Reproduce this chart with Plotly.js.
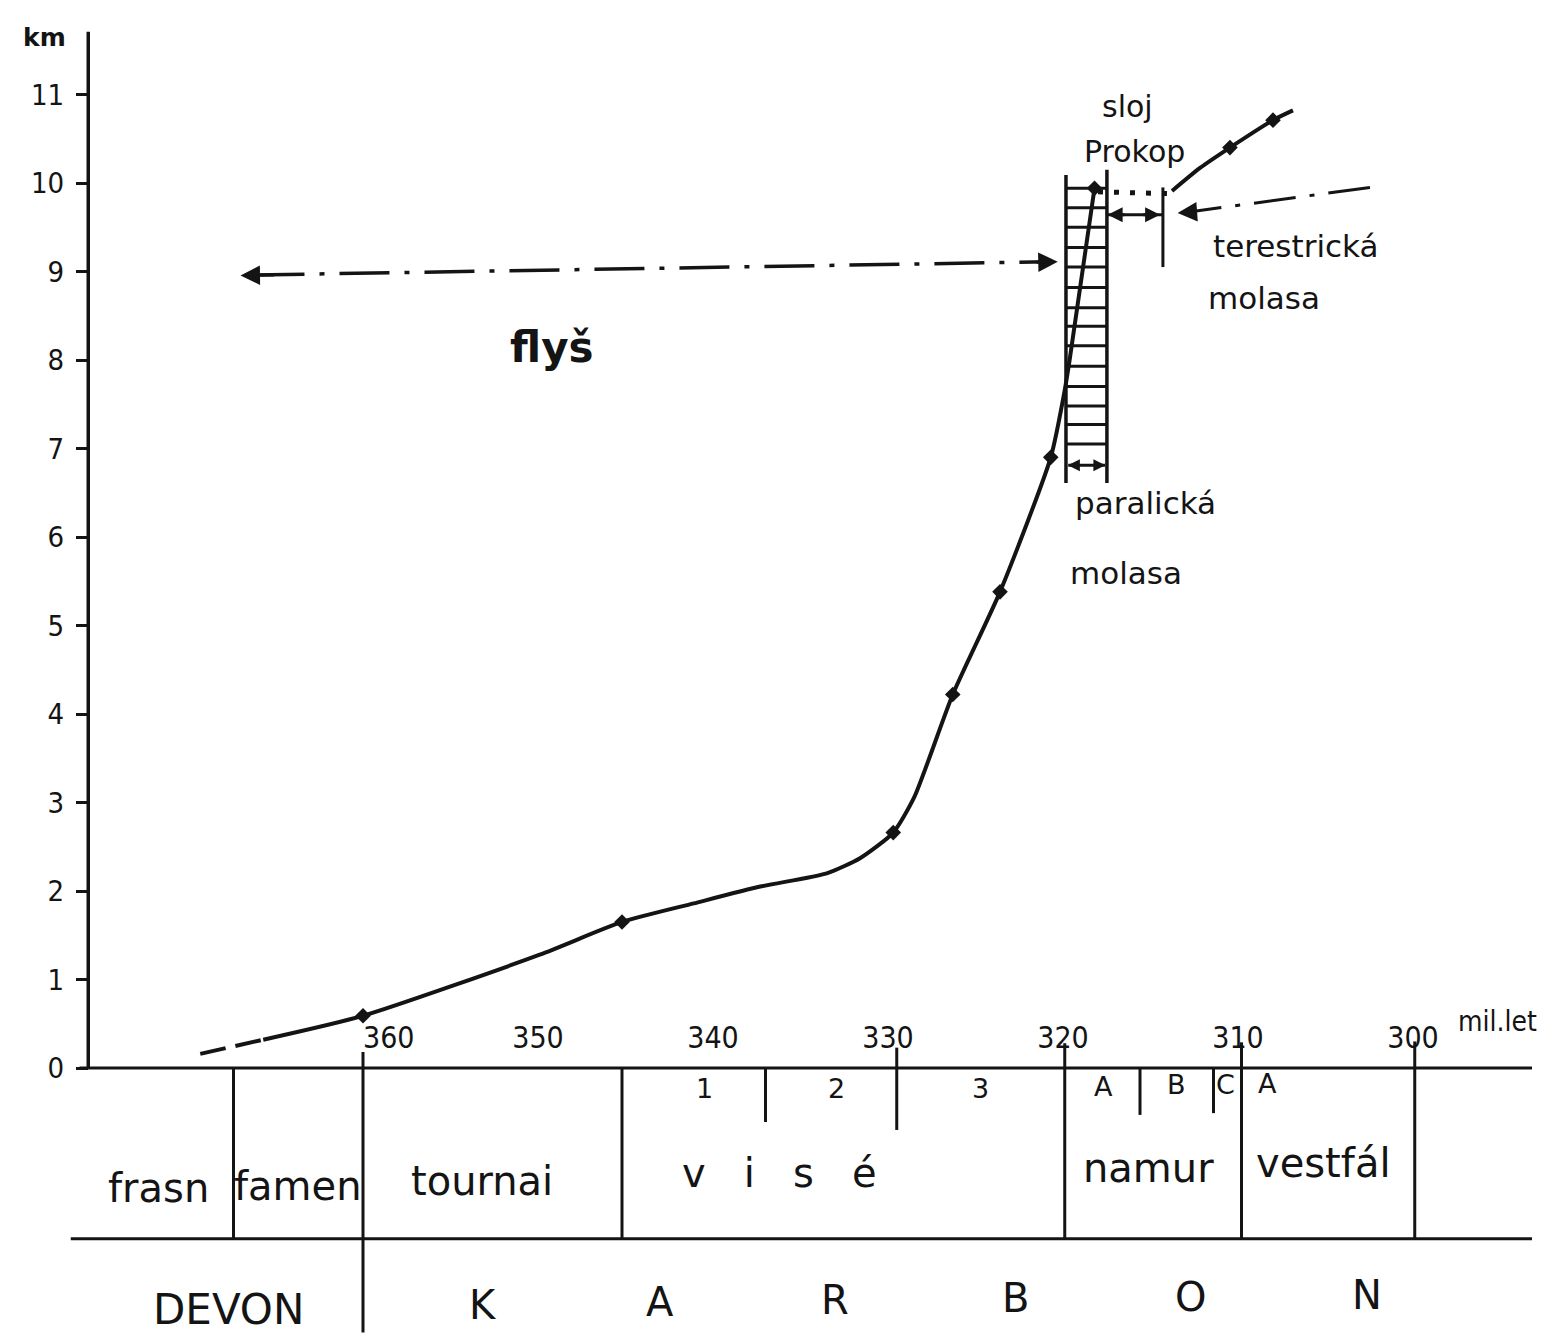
<!DOCTYPE html>
<html><head><meta charset="utf-8">
<script src="https://cdn.plot.ly/plotly-3.0.1.min.js"></script>
<style>html,body{margin:0;padding:0;background:#fff}#chart{width:1558px;height:1333px}</style>
</head><body><div id="chart"></div>
<script>
// ---------- data (age in mil. let, depth in km) ----------
const dashAge = [369.3, 367.6, 365.7];
const dashKm  = [0.16, 0.24, 0.32];
const curveAge = [365.7, 360, 349.9, 345.2, 341.1, 337.3, 333.5, 331.6, 329.7, 328.5, 326.3, 323.6, 320.7, 319.9, 319.6, 318.2];
const curveKm  = [0.32, 0.59, 1.28, 1.65, 1.86, 2.05, 2.20, 2.37, 2.66, 3.06, 4.22, 5.38, 6.90, 7.66, 8.03, 9.94];
const dotAge = [360, 345.2, 329.7, 326.3, 323.6, 320.7, 318.2];
const dotKm  = [0.59, 1.65, 2.66, 4.22, 5.38, 6.90, 9.94];
const gapAge = [318.0, 313.9];
const gapKm  = [9.90, 9.88];
const terrAge = [313.77, 312.17, 310.46, 308.0, 306.86];
const terrKm  = [9.91, 10.17, 10.40, 10.71, 10.82];
const terrDotAge = [310.46, 308.0];
const terrDotKm  = [10.40, 10.71];
const flysAge = [366.2, 320.9];
const flysKm  = [8.96, 9.11];
const terrArrAge = [302.46, 312.9];
const terrArrKm  = [9.95, 9.67];
const bracketHAge = [317.5, 314.29];
const bracketHKm  = [9.64, 9.64];
const bracketVAge = [314.29, 314.29];
const bracketVKm  = [9.95, 9.05];
const paraLeftAge = 319.83, paraRightAge = 317.49;
const paraLeftKm = [10.09, 6.61], paraRightKm = [10.15, 6.61];
const hatchKm = [9.94, 9.72, 9.50, 9.27, 9.05, 8.82, 8.59, 8.38, 8.16, 7.93, 7.70, 7.48, 7.27, 7.05];
const paraArrKm = 6.81;
const paraArrAge = [319.7, 317.6];

const yTicks = [0,1,2,3,4,5,6,7,8,9,10,11];
const xTicks = [360, 350, 340, 330, 320, 310, 300];
const xTickText = ['\u00a0\u00a0\u00a0\u00a0\u00a0\u00a0360', '350', '340', '330', '320', '310', '300'];

// stratigraphic table
const axisAge = 375.7;
const tableRight = 293.2;
const tableBottom = -1.93;
const stageBounds = [367.4, 360, 345.2, 319.9, 309.8, 299.9];
const stageTop    = [0, 0.18, 0, 0.28, 0.29, 0.30];
const stageBottom = [-1.93, -2.99, -1.93, -1.93, -1.93, -1.93];
const subBounds = [337.0, 329.5, 315.6, 311.4];
const subTop    = [0, 0.23, 0, 0];
const subBottom = [-0.61, -0.70, -0.53, -0.51];
const stageNames = ['frasn', 'famen', 'tournai', 'v   i   s   é', 'namur', 'vestfál'];
const stageAge   = [371.7, 363.7, 353.2, 336.2, 315.1, 305.1];
const stageKm    = [-1.36, -1.33, -1.28, -1.19, -1.13, -1.07];
const subNames = ['1', '2', '3', 'A', 'B', 'C', 'A'];
const subAge   = [340.46, 332.97, 324.74, 317.71, 313.49, 310.69, 308.34];
const subKm    = [-0.23, -0.23, -0.23, -0.21, -0.19, -0.19, -0.18];
const periodNames = ['DEVON', 'K', 'A', 'R', 'B', 'O', 'N'];
const periodAge   = [367.71, 353.14, 343.03, 333.03, 322.74, 312.74, 302.63];
const periodKm    = [-2.73, -2.68, -2.64, -2.62, -2.60, -2.59, -2.56];

// ---------- styling ----------
const INK = '#141414';
const FONT = '"DejaVu Sans", "Noto Sans", sans-serif';
const NUMFONT = '"DejaVu Sans Condensed", "Liberation Sans Narrow", "DejaVu Sans", sans-serif';

const traces = [];
function line(x, y, opts) {
  traces.push({type:'scatter', mode:'lines', x:x, y:y, hoverinfo:'skip',
    line:Object.assign({color:INK, width:3}, opts||{})});
}
line(dashAge, dashKm, {width:4, dash:'26px,10px'});
traces.push({type:'scatter', mode:'lines', x:curveAge, y:curveKm, line:{color:INK, width:4, shape:'spline', smoothing:0.6}, hoverinfo:'skip'});
traces.push({type:'scatter', mode:'markers', x:dotAge, y:dotKm, marker:{symbol:'diamond', size:12, color:INK}, hoverinfo:'skip'});
line(gapAge, gapKm, {width:5, dash:'5px,11px'});
traces.push({type:'scatter', mode:'lines', x:terrAge, y:terrKm, line:{color:INK, width:4, shape:'spline', smoothing:0.6}, hoverinfo:'skip'});
traces.push({type:'scatter', mode:'markers', x:terrDotAge, y:terrDotKm, marker:{symbol:'diamond', size:12, color:INK}, hoverinfo:'skip'});
line(flysAge, flysKm, {width:3.5, dash:'50px,15px,5px,15px'});
line(terrArrAge, terrArrKm, {width:3, dash:'42px,14px,5px,14px'});
line(bracketHAge, bracketHKm, {width:3});
line(bracketVAge, bracketVKm, {width:3});
line([paraLeftAge, paraLeftAge], paraLeftKm, {width:3.5});
line([paraRightAge, paraRightAge], paraRightKm, {width:3.5});
const hx = [], hy = [];
hatchKm.forEach(k => { hx.push(paraLeftAge, paraRightAge, null); hy.push(k, k, null); });
line(hx, hy, {width:3});
line(paraArrAge, [paraArrKm, paraArrKm], {width:3});

// ---------- shapes: axis line + table ----------
const shapes = [];
function seg(x0, y0, x1, y1, w) {
  shapes.push({type:'line', xref:'x', yref:'y', x0:x0, y0:y0, x1:x1, y1:y1, line:{color:INK, width:w||3}});
}
seg(axisAge, 0, axisAge, 11.71, 3.5);
seg(376.2, 0, tableRight, 0, 3);
seg(376.7, tableBottom, tableRight, tableBottom, 3);
stageBounds.forEach((a, i) => seg(a, stageTop[i], a, stageBottom[i], 3));
subBounds.forEach((a, i) => seg(a, subTop[i], a, subBottom[i], 3));

// ---------- annotations ----------
const ann = [];
function txt(x, y, t, size, extra) {
  ann.push(Object.assign({xref:'x', yref:'y', x:x, y:y, text:t, showarrow:false,
    font:{family:FONT, size:size, color:INK}}, extra||{}));
}
function arrow(hx, hy, tx, ty, sz) {
  ann.push({xref:'x', yref:'y', axref:'x', ayref:'y', x:hx, y:hy, ax:tx, ay:ty, text:'',
    showarrow:true, arrowhead:2, arrowsize:sz||1.3, arrowwidth:3, arrowcolor:INK, standoff:0});
}
txt(378.2, 11.64, '<b>km</b>', 25);
txt(295.2, 0.52, 'mil.let', 28, {font:{family:NUMFONT, size:28, color:INK}});
txt(349.2, 8.14, '<b>flyš</b>', 42);
txt(316.34, 10.86, 'sloj', 30);
txt(315.9, 10.36, 'Prokop', 30);
txt(306.7, 9.29, 'terestrická', 31);
txt(308.5, 8.70, 'molasa', 31);
txt(315.3, 6.38, 'paralická', 31);
txt(316.4, 5.59, 'molasa', 31);
stageNames.forEach((n, i) => txt(stageAge[i], stageKm[i], n, 40));
subNames.forEach((n, i) => txt(subAge[i], subKm[i], n, 27));
periodNames.forEach((n, i) => txt(periodAge[i], periodKm[i], n, i === 0 ? 42 : 40));

arrow(367.0, 8.955, 365.0, 8.96);
arrow(320.3, 9.11, 321.6, 9.105);
arrow(313.45, 9.66, 312.4, 9.675);
arrow(317.45, 9.64, 316.4, 9.64, 1.0);
arrow(314.45, 9.64, 315.5, 9.64, 1.0);
arrow(319.72, paraArrKm, 319.1, paraArrKm, 0.8);
arrow(317.58, paraArrKm, 318.2, paraArrKm, 0.8);

const layout = {
  width:1558, height:1333,
  margin:{l:0, r:0, t:0, b:0},
  paper_bgcolor:'#ffffff', plot_bgcolor:'#ffffff',
  showlegend:false,
  xaxis:{range:[380.743, 291.714], anchor:'free', position:265/1333, side:'top',
    showgrid:false, zeroline:false, showline:false, ticks:'',
    tickvals:xTicks, ticktext:xTickText, ticklabelstandoff:14,
    tickfont:{family:NUMFONT, size:30, color:INK}},
  yaxis:{range:[-2.9944, 12.0678], anchor:'free', position:88/1558,
    showgrid:false, zeroline:false, showline:false,
    ticks:'outside', ticklen:12, tickwidth:3, tickcolor:INK,
    tickvals:yTicks, ticklabelstandoff:6,
    tickfont:{family:NUMFONT, size:29, color:INK}},
  shapes:shapes,
  annotations:ann
};
Plotly.newPlot('chart', traces, layout, {staticPlot:true, displayModeBar:false});
</script>
</body></html>
